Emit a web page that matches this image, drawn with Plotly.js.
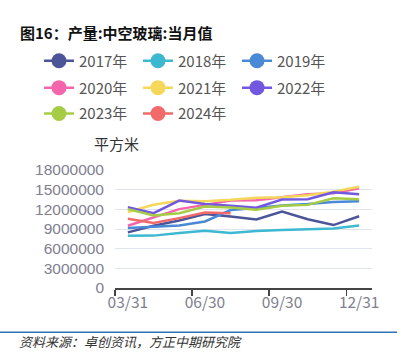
<!DOCTYPE html>
<html>
<head>
<meta charset="utf-8">
<script src="https://cdn.plot.ly/plotly-3.0.1.min.js"></script>
<style>
html,body{margin:0;padding:0;background:#fff;}
#chart{width:404px;height:354px;}
</style>
</head>
<body>
<div id="chart"></div>
<script>
const months = ['03/31','04/30','05/31','06/30','07/31','08/31','09/30','10/31','11/30','12/31'];
const seriesNames = ['2017年','2018年','2019年','2020年','2021年','2022年','2023年','2024年'];
const y2017 = [8480000, 9500000, 10300000, 11270000, 10900000, 10450000, 11670000, 10500000, 9600000, 10950000];
const y2018 = [7970000, 7990000, 8380000, 8730000, 8380000, 8680000, 8830000, 8930000, 9080000, 9540000];
const y2019 = [9140000, 9390000, 9540000, 10150000, 11900000, 12200000, 12600000, 12800000, 13100000, 13250000];
const y2020 = [9490000, 10760000, 12030000, 12680000, 13340000, 13400000, 13800000, 14300000, 14460000, 15200000];
const y2021 = [11600000, 12700000, 13300000, 13250000, 13450000, 13750000, 13850000, 14150000, 14700000, 15460000];
const y2022 = [12330000, 11420000, 13340000, 12800000, 12550000, 12250000, 13500000, 13550000, 14600000, 14300000];
const y2023 = [12030000, 11060000, 11420000, 12430000, 12280000, 11950000, 12550000, 12680000, 13700000, 13550000];
const y2024 = [10560000, 9900000, 10660000, 11500000, 11420000];

const colors = ['#4b5597','#3db8d1','#4a89d6','#f565ab','#f5d75a','#7258e0','#a6cc45','#f26a6a'];
const allY = [y2017,y2018,y2019,y2020,y2021,y2022,y2023,y2024];
const legendOf = ['legend','legend','legend','legend2','legend2','legend2','legend3','legend3'];

const FONT = '"Noto Sans CJK SC", "Noto Sans", sans-serif';
const traces = [];
allY.forEach((ys, i) => {
  traces.push({
    x: months.slice(0, ys.length), y: ys, type: 'scatter', mode: 'lines',
    name: seriesNames[i], showlegend: false,
    line: {color: colors[i], width: 2.5},
    hoverinfo: 'skip'
  });
});
seriesNames.forEach((n, i) => {
  traces.push({
    x: [null], y: [null], type: 'scatter', mode: 'lines+markers',
    name: n, showlegend: true, legend: legendOf[i],
    line: {color: colors[i], width: 2.5},
    marker: {color: colors[i], size: 15}
  });
});

const PL = 115, PW = 257, PB = 288.5, PH = 118.5;
const px = v => (v - PL) / PW;
const py = v => (PB - v) / PH;

function mkLegend(topPx) {
  return {
    orientation: 'h', x: px(39), xanchor: 'left',
    y: py(topPx), yanchor: 'top',
    font: {size: 15, color: '#555', family: FONT},
    entrywidth: 54, entrywidthmode: 'pixels',
    itemwidth: 30, bgcolor: 'rgba(0,0,0,0)'
  };
}

const layout = {
  width: 404, height: 354,
  margin: {l: PL, r: 32, t: 170, b: 65.5},
  paper_bgcolor: '#fff', plot_bgcolor: '#fff',
  font: {family: FONT, color: '#555'},
  showlegend: true,
  legend: mkLegend(44),
  legend2: mkLegend(71),
  legend3: mkLegend(97),
  xaxis: {
    type: 'category',
    range: [-0.5, 9.5],
    tickmode: 'linear', tick0: 0, dtick: 3,
    tickson: 'boundaries', tickangle: 0,
    showgrid: false, zeroline: false,
    showline: true, linecolor: '#444', linewidth: 1.5,
    ticks: 'outside', ticklen: 6, tickcolor: '#444', tickwidth: 1.5,
    tickfont: {size: 15.5, color: '#808090', family: FONT}
  },
  yaxis: {
    range: [0, 18000000], dtick: 3000000, tick0: 0,
    tickformat: 'd',
    showgrid: true, gridcolor: '#e0e4ee', gridwidth: 1,
    zeroline: false, showline: false, ticks: '',
    ticklabelstandoff: 10,
    tickfont: {size: 15.5, color: '#808090', family: '"Liberation Sans", Arial, sans-serif'}
  },
  shapes: [
    {type: 'line', xref: 'paper', yref: 'paper', x0: px(0), x1: px(397), y0: py(333), y1: py(333),
     line: {color: '#2e74b5', width: 1.5}}
  ],
  annotations: [
    {text: '<b>图16：产量:中空玻璃:当月值</b>', xref: 'paper', yref: 'paper', x: px(18), y: py(32),
     xanchor: 'left', yanchor: 'middle', showarrow: false, font: {size: 15, color: '#111', family: FONT}},
    {text: '平方米', xref: 'paper', yref: 'paper', x: px(92), y: py(143),
     xanchor: 'left', yanchor: 'middle', showarrow: false, font: {size: 15, color: '#333', family: FONT}},
    {text: '<i>资料来源：卓创资讯，方正中期研究院</i>', xref: 'paper', yref: 'paper', x: px(17), y: py(342),
     xanchor: 'left', yanchor: 'middle', showarrow: false, font: {size: 13, color: '#333', family: FONT}}
  ]
};

Plotly.newPlot('chart', traces, layout, {displayModeBar: false, staticPlot: true});
</script>
</body>
</html>
